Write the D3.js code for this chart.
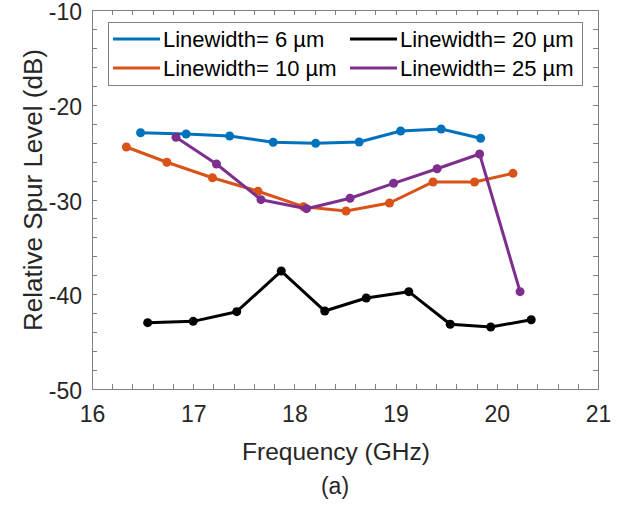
<!DOCTYPE html>
<html>
<head>
<meta charset="utf-8">
<script src="https://cdn.jsdelivr.net/npm/d3@7"></script>
<style>
  html, body { margin: 0; padding: 0; background: #fff; }
  svg { display: block; font-family: "Liberation Sans", Arial, Helvetica, sans-serif; }
</style>
</head>
<body>
<svg id="chart" width="628" height="508"></svg>
<script>
// Measured spur level per linewidth (frequency in GHz, level in dB)
const freq6  = [16.48, 16.93, 17.36, 17.79, 18.21, 18.64, 19.05, 19.45, 19.84];
const spur6  = [-22.95, -23.09, -23.30, -23.96, -24.07, -23.93, -22.77, -22.56, -23.54];

const freq10 = [16.34, 16.74, 17.19, 17.64, 18.09, 18.51, 18.94, 19.37, 19.78, 20.16];
const spur10 = [-24.46, -26.07, -27.70, -29.13, -30.76, -31.21, -30.37, -28.15, -28.15, -27.24];

const freq20 = [16.55, 17.00, 17.43, 17.87, 18.30, 18.71, 19.13, 19.54, 19.94, 20.34];
const spur20 = [-43.00, -42.86, -41.84, -37.55, -41.77, -40.40, -39.73, -43.17, -43.46, -42.69];

const freq25 = [16.83, 17.23, 17.67, 18.12, 18.55, 18.98, 19.41, 19.83, 20.23];
const spur25 = [-23.44, -26.25, -30.02, -30.97, -29.87, -28.29, -26.75, -25.20, -39.73];

const seriesNames = ["Linewidth= 6 \u00b5m", "Linewidth= 10 \u00b5m", "Linewidth= 20 \u00b5m", "Linewidth= 25 \u00b5m"];
const seriesColors = ["#0072BD", "#D95319", "#000000", "#7E2F8E"];

const xTicks = [16, 17, 18, 19, 20, 21];
const yTicks = [-50, -40, -30, -20, -10];

const xLabel = "Frequency (GHz)";
const yLabel = "Relative Spur Level (dB)";
const caption = "(a)";

const series = [
  { name: seriesNames[0], color: seriesColors[0], f: freq6,  v: spur6 },
  { name: seriesNames[1], color: seriesColors[1], f: freq10, v: spur10 },
  { name: seriesNames[2], color: seriesColors[2], f: freq20, v: spur20 },
  { name: seriesNames[3], color: seriesColors[3], f: freq25, v: spur25 }
];

const svg = d3.select("#chart");
const plot = { left: 92, right: 598, top: 10, bottom: 389 };

const x = d3.scaleLinear().domain([16, 21]).range([plot.left, plot.right]);
const y = d3.scaleLinear().domain([-50, -10]).range([plot.bottom, plot.top]);

const axisColor = "#262626";
const tickLen = 5;

// Minor + major ticks, drawn inward on all four sides
const xMinor = d3.range(16, 21.0001, 0.2);
const yMinor = d3.range(-50, -9.999, 2);

const tickG = svg.append("g").attr("stroke", "#7f7f7f").attr("stroke-width", 1);
xMinor.forEach(t => {
  const px = Math.round(x(t)) + 0.5;
  tickG.append("line").attr("x1", px).attr("x2", px).attr("y1", plot.bottom).attr("y2", plot.bottom - tickLen);
  tickG.append("line").attr("x1", px).attr("x2", px).attr("y1", plot.top).attr("y2", plot.top + tickLen);
});
yMinor.forEach(t => {
  const py = Math.round(y(t)) + 0.5;
  tickG.append("line").attr("x1", plot.left).attr("x2", plot.left + tickLen).attr("y1", py).attr("y2", py);
  tickG.append("line").attr("x1", plot.right).attr("x2", plot.right - tickLen).attr("y1", py).attr("y2", py);
});

// Axes via d3 axis generators for labels
const xAxis = d3.axisBottom(x).tickValues(xTicks).tickSize(0).tickPadding(17).tickFormat(d3.format("d"));
const yAxis = d3.axisLeft(y).tickValues(yTicks).tickSize(0).tickPadding(10).tickFormat(d => d3.format("d")(d).replace("\u2212", "-"));

const gx = svg.append("g").attr("transform", `translate(0,${plot.bottom})`).call(xAxis);
const gy = svg.append("g").attr("transform", `translate(${plot.left},0)`).call(yAxis);
[gx, gy].forEach(g => {
  g.select(".domain").remove();
  g.selectAll("text").attr("fill", axisColor).style("font-size", "23px").style("font-family", "Liberation Sans, Arial, sans-serif");
});
gx.selectAll("text").attr("dy", "0.71em");
gy.selectAll("text").attr("dy", "0.42em");

// Box
svg.append("rect")
  .attr("x", plot.left + 0.5).attr("y", plot.top + 0.5)
  .attr("width", plot.right - plot.left).attr("height", plot.bottom - plot.top)
  .attr("fill", "none").attr("stroke", "#7f7f7f").attr("stroke-width", 1);

// Series lines and markers
const line = d3.line().x(d => x(d[0])).y(d => y(d[1]));
series.forEach(s => {
  const pts = s.f.map((f, i) => [f, s.v[i]]);
  svg.append("path").datum(pts)
    .attr("d", line).attr("fill", "none")
    .attr("stroke", s.color).attr("stroke-width", 3).attr("stroke-linejoin", "round");
  svg.append("g").selectAll("circle").data(pts).join("circle")
    .attr("cx", d => x(d[0])).attr("cy", d => y(d[1])).attr("r", 4.5)
    .attr("fill", s.color);
});

// Legend
const legend = svg.append("g");
legend.append("rect")
  .attr("x", 108.5).attr("y", 22.5).attr("width", 474).attr("height", 63)
  .attr("fill", "#fff").attr("stroke", "#7f7f7f").attr("stroke-width", 1);
const legendPos = [
  { lx: 113, tx: 163, cy: 39 },
  { lx: 113, tx: 163, cy: 68 },
  { lx: 350, tx: 400, cy: 39 },
  { lx: 350, tx: 400, cy: 68 }
];
series.forEach((s, i) => {
  const p = legendPos[i];
  legend.append("line").attr("x1", p.lx).attr("x2", p.lx + 47).attr("y1", p.cy).attr("y2", p.cy)
    .attr("stroke", s.color).attr("stroke-width", 3);
  legend.append("text").attr("x", p.tx).attr("y", p.cy).attr("dy", "0.36em")
    .attr("fill", "#000").style("font-size", "22px").text(s.name);
});

// Axis titles and caption
svg.append("text").attr("x", 336).attr("y", 460)
  .attr("text-anchor", "middle").attr("fill", axisColor).style("font-size", "24.5px").text(xLabel);
svg.append("text").attr("transform", `translate(42,190) rotate(-90)`)
  .attr("text-anchor", "middle").attr("fill", axisColor).style("font-size", "26px").text(yLabel);
svg.append("text").attr("x", 335).attr("y", 494)
  .attr("text-anchor", "middle").attr("fill", axisColor).style("font-size", "23px").text(caption);
</script>
</body>
</html>
